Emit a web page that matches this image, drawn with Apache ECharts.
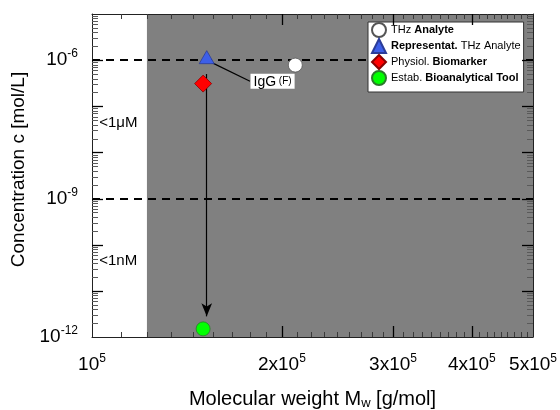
<!DOCTYPE html>
<html><head><meta charset="utf-8">
<script src="https://cdn.jsdelivr.net/npm/echarts@6/dist/echarts.min.js"></script>
<style>html,body{margin:0;padding:0;background:#fff}#c{width:560px;height:410px}</style>
</head><body><div id="c"></div>
<script>
// ---------- data ----------
const seriesNames = ['THz Analyte', 'Representat. THz Analyte', 'Physiol. Biomarker', 'Estab. Bioanalytical Tool'];
const thzAnalyte = [[2.1e5, 7.8e-7]];
const representative = [[1.52e5, 1.0e-6]];
const biomarker = [[1.5e5, 3.1e-7]];
const bioTool = [[1.5e5, 1.5e-12]];
const arrowFrom = [1.52e5, 5.0e-7];
const arrowTo = [1.52e5, 2.8e-12];
const igGLabel = ['IgG', '(F)'];
const igGAnchor = [1.78e5, 3.5e-7];
const thresholds = [1e-6, 1e-9];
const thresholdLabels = ['<1μM', '<1nM'];
const thresholdLabelAt = [[1.025e5, 4.3e-8], [1.025e5, 4.5e-11]];
const shadedX = [1.222e5, 5e5];
const xRange = [1e5, 5e5];
const yRange = [1e-12, 1e-5];
const xTickLabels = [1e5, 2e5, 3e5, 4e5, 5e5];
const xMajorTicks = [2e5, 3e5, 4e5];
const yTickLabels = [1e-12, 1e-9, 1e-6];
const yMajorTicks = [1e-11, 1e-10, 1e-9, 1e-8, 1e-7, 1e-6];
const xMinorTicks = [];
for (let k = 1; k <= 4; k++) for (let j = 1; j <= 8; j++) xMinorTicks.push((k + j / 9) * 1e5);
const yMinorTicks = [];
for (let e = -12; e <= -6; e++) for (let m = 2; m <= 9; m++) yMinorTicks.push(m * Math.pow(10, e));

// ---------- chart ----------
const FONT = '"Liberation Sans", Arial, sans-serif';
function sci(v) {
  const e = Math.floor(Math.log10(v) + 1e-9);
  const m = Math.round(v / Math.pow(10, e));
  return (m === 1 ? '{b|10}' : '{b|' + m + 'x10}') + '{s|' + e + '}';
}
const tickRich = {
  b: {fontSize: 19, fontFamily: FONT, color: '#000', lineHeight: 24},
  s: {fontSize: 12, fontFamily: FONT, color: '#000', lineHeight: 12, verticalAlign: 'top'}
};
const lineAx = {lineStyle: {color: '#222', width: 1}, onZero: false, show: true};
const noGrid = {splitLine: {show: false}, minorTick: {show: false}, minorSplitLine: {show: false}};

const xAxes = [
  Object.assign({
    type: 'log', logBase: 10, min: xRange[0], max: xRange[1], position: 'bottom', z: 2,
    axisLine: lineAx, axisTick: {show: false},
    axisLabel: {show: true, customValues: xTickLabels, formatter: sci, margin: 16, rich: tickRich},
    name: 'Molecular weight M{sub|w} [g/mol]', nameLocation: 'middle', nameGap: 51,
    nameTextStyle: {fontSize: 20, fontFamily: FONT, color: '#000', lineHeight: 22,
      rich: {sub: {fontSize: 13, fontFamily: FONT, color: '#000', lineHeight: 14, verticalAlign: 'bottom'}}}
  }, noGrid),
  Object.assign({
    type: 'log', logBase: 10, min: xRange[0], max: xRange[1], position: 'top', z: 2,
    axisLine: lineAx, axisTick: {show: false}, axisLabel: {show: false}
  }, noGrid)
];
const yAxes = [
  Object.assign({
    type: 'log', logBase: 10, min: yRange[0], max: yRange[1], position: 'left', z: 2,
    axisLine: lineAx, axisTick: {show: false},
    axisLabel: {show: true, customValues: yTickLabels, formatter: sci, margin: 14, rich: tickRich},
    name: 'Concentration c [mol/L]', nameLocation: 'middle', nameGap: 50,
    nameTextStyle: {fontSize: 19, fontFamily: FONT, color: '#000', padding: [0, 0, 0, 12]}
  }, noGrid),
  Object.assign({
    type: 'log', logBase: 10, min: yRange[0], max: yRange[1], position: 'right', z: 2,
    axisLine: lineAx, axisTick: {show: false}, axisLabel: {show: false}
  }, noGrid)
];

const legendRich = {
  n: {fontSize: 11, fontFamily: FONT, color: '#000', lineHeight: 14},
  b: {fontSize: 11, fontFamily: FONT, color: '#000', fontWeight: 'bold', lineHeight: 14}
};
const legendFmt = {
  'THz Analyte': '{n|THz }{b|Analyte}',
  'Representat. THz Analyte': '{b|Representat.}{n| THz Analyte}',
  'Physiol. Biomarker': '{n|Physiol. }{b|Biomarker}',
  'Estab. Bioanalytical Tool': '{n|Estab. }{b|Bioanalytical Tool}'
};

const chart = echarts.init(document.getElementById('c'), null, {renderer: 'canvas'});
chart.setOption({
  animation: false,
  backgroundColor: '#fff',
  textStyle: {fontFamily: FONT},
  grid: {left: 92, right: 27, top: 14, bottom: 73, containLabel: false, outerBoundsMode: 'none'},
  xAxis: xAxes,
  yAxis: yAxes,
  legend: {
    data: seriesNames, orient: 'vertical', left: 368, top: 22,
    itemWidth: 14, itemHeight: 14, itemGap: 0, itemTextGap: 11,
    padding: [0, 3, 6, 3], backgroundColor: '#fff', borderColor: '#333', borderWidth: 1, borderRadius: 0,
    formatter: n => legendFmt[n],
    textStyle: {fontSize: 11, fontFamily: FONT, color: '#000', lineHeight: 14, rich: legendRich}
  },
  series: [
    {
      name: 'shade', type: 'scatter', data: [], silent: true, z: 1,
      markArea: {silent: true, z: 1, itemStyle: {color: '#808080', opacity: 1},
        data: [[{coord: [shadedX[0], yRange[0]]}, {coord: [shadedX[1], yRange[1]]}]]}
    },
    {
      name: 'thresholds', type: 'scatter', data: [], silent: true, z: 2,
      markLine: {silent: true, z: 2, symbol: ['none', 'none'], label: {show: false},
        lineStyle: {color: '#000', width: 1.8, type: [8, 6], opacity: 1},
        data: thresholds.map(t => [{coord: [xRange[0], t]}, {coord: [xRange[1], t]}])}
    },
    {
      name: 'arrow', type: 'scatter', data: [], silent: true, z: 3,
      markLine: {silent: true, z: 3, label: {show: false}, symbol: ['none', 'arrow'], symbolSize: [8, 13],
        lineStyle: {color: '#000', width: 1.2, type: 'solid', opacity: 1},
        data: [
          [{coord: arrowFrom}, {coord: arrowTo}],
          [{coord: representative[0], symbol: 'none'}, {coord: igGAnchor, symbol: 'none'}]
        ]}
    },
    {
      name: 'notes', type: 'scatter', silent: true, z: 3, symbolSize: 1,
      itemStyle: {color: 'rgba(0,0,0,0)', opacity: 1},
      data: thresholdLabels.map((t, i) => ({name: t, value: thresholdLabelAt[i]})),
      label: {show: true, formatter: '{b}', position: 'right', distance: 0, fontSize: 15, fontFamily: FONT, color: '#000'}
    },
    {
      name: 'igg', type: 'scatter', silent: true, z: 4, symbolSize: 1,
      itemStyle: {color: 'rgba(0,0,0,0)', opacity: 1},
      data: [{name: igGLabel[0], value: igGAnchor}],
      label: {show: true, position: 'right', distance: 0,
        formatter: '{a|' + igGLabel[0] + '}{f| ' + igGLabel[1] + '}',
        backgroundColor: '#ffffff', padding: [1, 3, 0, 3],
        rich: {a: {fontSize: 14, fontFamily: FONT, color: '#000'}, f: {fontSize: 10, fontFamily: FONT, color: '#000'}}}
    },
    {
      name: seriesNames[0], type: 'scatter', data: thzAnalyte, z: 5, symbol: 'circle', symbolSize: 14,
      itemStyle: {color: '#ffffff', borderColor: '#555', borderWidth: 0.8, opacity: 1}
    },
    {
      name: seriesNames[1], type: 'scatter', data: representative, z: 5, symbol: 'triangle', symbolSize: [15, 13],
      symbolOffset: [0, -3],
      itemStyle: {color: '#3d5fe8', borderColor: '#2a3c99', borderWidth: 0.8, opacity: 1}
    },
    {
      name: seriesNames[2], type: 'scatter', data: biomarker, z: 5, symbol: 'diamond', symbolSize: 17,
      itemStyle: {color: '#ff0000', borderColor: '#8a0000', borderWidth: 0.8, opacity: 1}
    },
    {
      name: seriesNames[3], type: 'scatter', data: bioTool, z: 5, symbol: 'circle', symbolSize: 14,
      itemStyle: {color: '#00ff00', borderColor: '#2a7a2a', borderWidth: 0.8, opacity: 1}
    }
  ]
});

// ---------- tick marks: positions come from the chart's own axis scales ----------
function toPx(axis, v) {
  const finder = axis === 'x' ? {xAxisIndex: 0} : {yAxisIndex: 0};
  const p = chart.convertToPixel(finder, v);
  return Array.isArray(p) ? p[axis === 'x' ? 0 : 1] : p;
}
const frameL = toPx('x', xRange[0]), frameR = toPx('x', xRange[1]);
const frameB = toPx('y', yRange[0]), frameT = toPx('y', yRange[1]);
const tickEls = [];
function addX(values, len, color, width) {
  values.forEach(v => {
    const x = Math.round(toPx('x', v)) + 0.5;
    if (!isFinite(x)) return;
    [[frameB, -len], [frameT, len]].forEach(([y0, d]) => tickEls.push({
      type: 'line', silent: true, z: 50,
      shape: {x1: x, y1: y0, x2: x, y2: y0 + d},
      style: {stroke: color, lineWidth: width}
    }));
  });
}
function addY(values, len, color, width) {
  values.forEach(v => {
    const y = Math.round(toPx('y', v)) + 0.5;
    if (!isFinite(y)) return;
    [[frameL, len], [frameR, -len]].forEach(([x0, d]) => tickEls.push({
      type: 'line', silent: true, z: 50,
      shape: {x1: x0, y1: y, x2: x0 + d, y2: y},
      style: {stroke: color, lineWidth: width}
    }));
  });
}
addX(xMinorTicks, 5, '#3a3a3a', 1);
addX(xMajorTicks, 11, '#000', 1.3);
addY(yMinorTicks, 6, '#5a5a5a', 1);
addY(yMajorTicks, 11, '#000', 1.3);
chart.setOption({graphic: {elements: tickEls}});
</script></body></html>
